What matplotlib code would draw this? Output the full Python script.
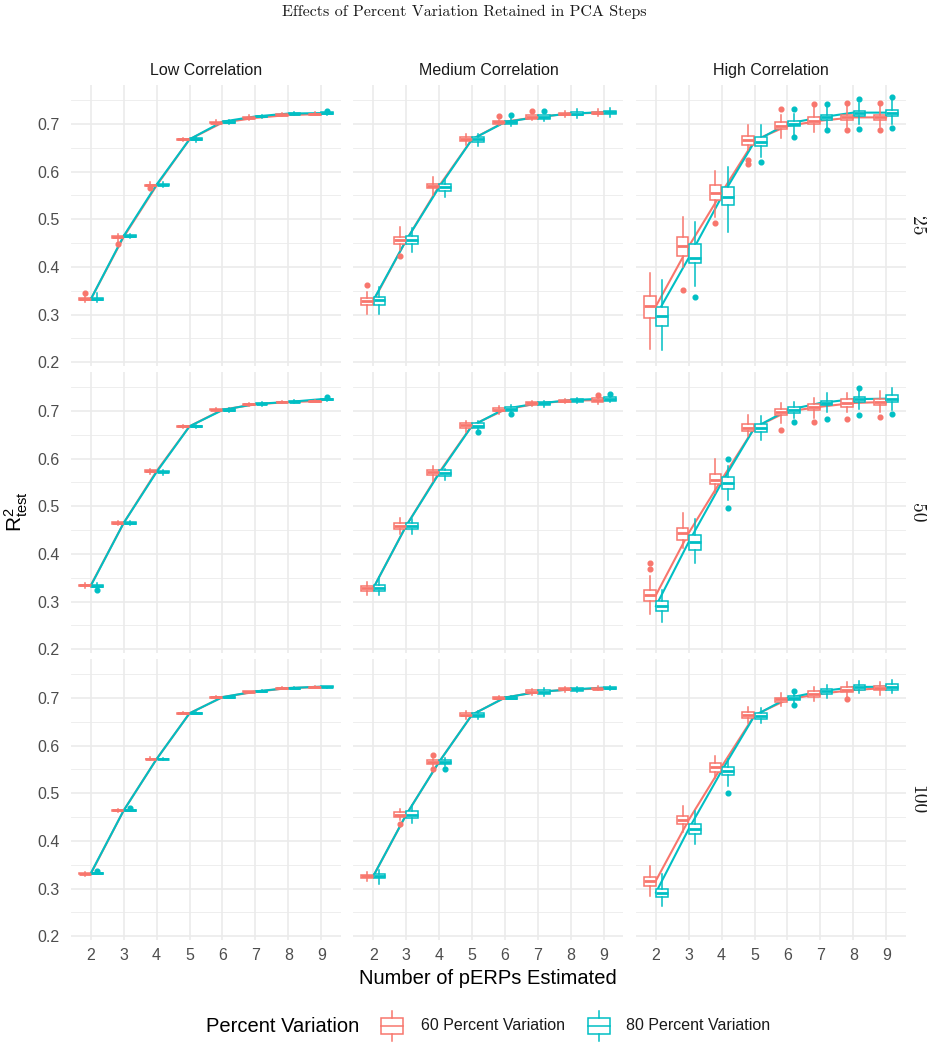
import matplotlib
matplotlib.use("Agg")
import matplotlib.pyplot as plt
from matplotlib.patches import Rectangle
from matplotlib.lines import Line2D
import numpy as np

plt.rcParams['font.family'] = ['Liberation Sans', 'DejaVu Sans']
plt.rcParams['mathtext.default'] = 'regular'

# ---------------- data ----------------
CORRS = ['Low Correlation', 'Medium Correlation', 'High Correlation']
PCS = ['25', '50', '100']
X = [2, 3, 4, 5, 6, 7, 8, 9]
SERIES = ['60 Percent Variation', '80 Percent Variation']
COLORS = ['#F8766D', '#00BFC4']

# box statistics (median, q1, q3, lower whisker, upper whisker)
LOW_25_60 = dict(med=[.332, .463, .571, .668, .703, .713, .719, .721],
                 q1=[.330, .460, .569, .667, .702, .712, .718, .720],
                 q3=[.334, .465, .573, .669, .705, .715, .721, .722],
                 lo=[.326, .452, .562, .665, .699, .709, .716, .718],
                 hi=[.338, .470, .578, .671, .708, .718, .724, .725])
LOW_25_80 = dict(med=[.332, .465, .573, .668, .705, .716, .722, .723],
                 q1=[.330, .463, .572, .666, .703, .715, .721, .722],
                 q3=[.334, .467, .575, .670, .706, .717, .724, .725],
                 lo=[.326, .460, .568, .663, .701, .712, .718, .720],
                 hi=[.345, .470, .578, .673, .708, .720, .726, .727])
LOW_50_60 = dict(med=[.334, .465, .574, .668, .703, .714, .719, .721],
                 q1=[.332, .463, .572, .667, .702, .713, .718, .720],
                 q3=[.335, .467, .576, .669, .704, .715, .720, .722],
                 lo=[.329, .460, .567, .665, .700, .711, .716, .718],
                 hi=[.338, .470, .579, .671, .706, .717, .722, .724])
LOW_50_80 = dict(med=[.333, .465, .572, .668, .702, .715, .719, .725],
                 q1=[.331, .463, .571, .667, .701, .714, .718, .723],
                 q3=[.335, .467, .574, .669, .704, .716, .721, .726],
                 lo=[.326, .461, .566, .665, .699, .711, .716, .721],
                 hi=[.338, .469, .577, .671, .706, .718, .723, .728])
LOW_100_60 = dict(med=[.331, .464, .572, .668, .702, .713, .721, .723],
                  q1=[.330, .463, .571, .667, .701, .712, .720, .722],
                  q3=[.332, .465, .573, .669, .703, .714, .722, .724],
                  lo=[.327, .461, .569, .666, .700, .711, .719, .721],
                  hi=[.335, .467, .576, .670, .704, .715, .723, .725])
LOW_100_80 = dict(med=[.332, .464, .572, .668, .702, .714, .721, .724],
                  q1=[.331, .463, .571, .667, .701, .713, .720, .723],
                  q3=[.333, .465, .573, .669, .703, .715, .722, .725],
                  lo=[.330, .462, .570, .666, .700, .712, .719, .722],
                  hi=[.337, .467, .575, .670, .704, .716, .723, .726])

MED_25_60 = dict(med=[.328, .456, .570, .668, .705, .715, .722, .724],
                 q1=[.320, .449, .565, .664, .701, .711, .719, .721],
                 q3=[.334, .463, .574, .672, .707, .718, .724, .726],
                 lo=[.301, .435, .551, .656, .697, .709, .715, .717],
                 hi=[.348, .484, .588, .679, .708, .720, .728, .731])
MED_25_80 = dict(med=[.330, .456, .567, .668, .704, .715, .722, .725],
                 q1=[.320, .448, .560, .663, .700, .711, .718, .721],
                 q3=[.337, .465, .574, .673, .707, .719, .725, .728],
                 lo=[.302, .432, .547, .654, .695, .707, .713, .715],
                 hi=[.357, .481, .584, .680, .712, .720, .731, .733])
MED_50_60 = dict(med=[.328, .459, .571, .670, .703, .716, .722, .723],
                 q1=[.323, .452, .566, .665, .700, .713, .719, .718],
                 q3=[.333, .464, .576, .674, .706, .719, .724, .727],
                 lo=[.314, .441, .553, .657, .694, .710, .717, .715],
                 hi=[.341, .476, .585, .679, .710, .721, .726, .730])
MED_50_80 = dict(med=[.328, .459, .569, .669, .705, .716, .723, .726],
                 q1=[.322, .452, .563, .664, .700, .713, .720, .721],
                 q3=[.334, .466, .576, .674, .709, .719, .725, .729],
                 lo=[.313, .441, .555, .658, .697, .709, .717, .718],
                 hi=[.352, .474, .578, .679, .712, .721, .728, .732])
MED_100_60 = dict(med=[.326, .455, .566, .665, .701, .713, .718, .720],
                  q1=[.323, .450, .561, .662, .699, .710, .716, .718],
                  q3=[.329, .461, .570, .669, .703, .716, .721, .722],
                  lo=[.316, .443, .558, .657, .697, .707, .713, .716],
                  hi=[.335, .467, .573, .672, .705, .719, .723, .725])
MED_100_80 = dict(med=[.326, .455, .566, .665, .701, .713, .718, .722],
                  q1=[.322, .448, .561, .661, .699, .709, .715, .719],
                  q3=[.330, .462, .570, .669, .703, .716, .721, .724],
                  lo=[.309, .437, .557, .656, .697, .705, .712, .716],
                  hi=[.339, .475, .574, .672, .705, .721, .724, .726])

HIGH_25_60 = dict(med=[.317, .443, .556, .666, .696, .707, .714, .714],
                  q1=[.293, .423, .540, .656, .689, .700, .708, .708],
                  q3=[.340, .462, .572, .675, .704, .714, .719, .719],
                  lo=[.228, .400, .505, .645, .670, .684, .694, .694],
                  hi=[.387, .505, .602, .698, .719, .735, .738, .740])
HIGH_25_80 = dict(med=[.297, .419, .547, .663, .701, .714, .724, .724],
                  q1=[.276, .409, .530, .654, .696, .708, .717, .717],
                  q3=[.316, .448, .568, .672, .707, .719, .728, .729],
                  lo=[.225, .361, .473, .631, .677, .691, .701, .701],
                  hi=[.373, .495, .609, .698, .722, .736, .745, .750])
HIGH_50_60 = dict(med=[.313, .444, .556, .665, .699, .709, .717, .719],
                  q1=[.302, .430, .546, .658, .691, .702, .709, .712],
                  q3=[.324, .455, .567, .672, .705, .715, .725, .726],
                  lo=[.273, .413, .528, .647, .675, .686, .697, .698],
                  hi=[.353, .486, .600, .691, .717, .728, .737, .742])
HIGH_50_80 = dict(med=[.290, .425, .549, .665, .702, .717, .725, .726],
                  q1=[.280, .409, .537, .657, .695, .712, .718, .718],
                  q3=[.301, .439, .562, .672, .708, .722, .730, .733],
                  lo=[.257, .381, .514, .640, .686, .698, .704, .702],
                  hi=[.325, .474, .584, .690, .720, .737, .744, .749])
HIGH_100_60 = dict(med=[.316, .444, .556, .664, .697, .709, .717, .721],
                   q1=[.306, .435, .545, .658, .691, .703, .712, .716],
                   q3=[.325, .452, .564, .670, .701, .714, .723, .726],
                   lo=[.284, .418, .533, .648, .683, .693, .703, .707],
                   hi=[.348, .473, .579, .681, .710, .724, .733, .733])
HIGH_100_80 = dict(med=[.291, .425, .547, .663, .700, .714, .723, .724],
                   q1=[.282, .415, .538, .657, .695, .709, .717, .717],
                   q3=[.300, .435, .556, .669, .705, .719, .728, .730],
                   lo=[.263, .393, .515, .648, .690, .700, .710, .710],
                   hi=[.330, .463, .571, .679, .710, .728, .735, .737])

# outliers: (pERPs, value)
OUT_LOW_25_60 = [(2, .345), (3, .449), (4, .565)]
OUT_LOW_25_80 = [(9, .727)]
OUT_LOW_50_60 = []
OUT_LOW_50_80 = [(2, .325), (9, .729)]
OUT_LOW_100_60 = []
OUT_LOW_100_80 = [(3, .469), (2, .337)]
OUT_MED_25_60 = [(2, .362), (3, .423), (6, .717), (7, .728)]
OUT_MED_25_80 = [(6, .718), (7, .728)]
OUT_MED_50_60 = [(9, .734)]
OUT_MED_50_80 = [(5, .655), (6, .694), (9, .735)]
OUT_MED_100_60 = [(3, .435), (4, .581), (4, .552)]
OUT_MED_100_80 = [(4, .551)]
OUT_HIGH_25_60 = [(3, .351), (4, .492), (5, .624), (5, .617), (6, .731),
                  (7, .742), (8, .745), (8, .687), (9, .745), (9, .687)]
OUT_HIGH_25_80 = [(3, .337), (5, .621), (6, .731), (6, .672), (7, .743),
                  (7, .687), (8, .752), (8, .689), (9, .756), (9, .691)]
OUT_HIGH_50_60 = [(2, .381), (2, .369), (6, .660), (7, .677), (8, .683),
                  (9, .688)]
OUT_HIGH_50_80 = [(4, .600), (4, .497), (6, .677), (7, .684), (8, .749),
                  (8, .691), (9, .694)]
OUT_HIGH_100_60 = [(8, .698)]
OUT_HIGH_100_80 = [(4, .501), (6, .714), (6, .686)]

PANELS = {
    ('Low Correlation', '25'): ((LOW_25_60, OUT_LOW_25_60), (LOW_25_80, OUT_LOW_25_80)),
    ('Low Correlation', '50'): ((LOW_50_60, OUT_LOW_50_60), (LOW_50_80, OUT_LOW_50_80)),
    ('Low Correlation', '100'): ((LOW_100_60, OUT_LOW_100_60), (LOW_100_80, OUT_LOW_100_80)),
    ('Medium Correlation', '25'): ((MED_25_60, OUT_MED_25_60), (MED_25_80, OUT_MED_25_80)),
    ('Medium Correlation', '50'): ((MED_50_60, OUT_MED_50_60), (MED_50_80, OUT_MED_50_80)),
    ('Medium Correlation', '100'): ((MED_100_60, OUT_MED_100_60), (MED_100_80, OUT_MED_100_80)),
    ('High Correlation', '25'): ((HIGH_25_60, OUT_HIGH_25_60), (HIGH_25_80, OUT_HIGH_25_80)),
    ('High Correlation', '50'): ((HIGH_50_60, OUT_HIGH_50_60), (HIGH_50_80, OUT_HIGH_50_80)),
    ('High Correlation', '100'): ((HIGH_100_60, OUT_HIGH_100_60), (HIGH_100_80, OUT_HIGH_100_80)),
}

YTICKS = [0.2, 0.3, 0.4, 0.5, 0.6, 0.7]
YMINOR = [0.25, 0.35, 0.45, 0.55, 0.65, 0.75]

# ---------------- layout ----------------
W, H = 928, 1050
fig = plt.figure(figsize=(W / 100, H / 100), dpi=100)
fig.patch.set_facecolor('white')

COL_LEFT = [71, 353.5, 636]
PANEL_W = 270
ROW_TOP = [85, 372, 659]
PANEL_H = 281
GRID = '#EBEBEB'
TXT = '#4D4D4D'

DODGE = [-0.1875, 0.1875]
xs = np.array(X, dtype=float)

for r, pc in enumerate(PCS):
    for c, corr in enumerate(CORRS):
        ax = fig.add_axes([COL_LEFT[c] / W, 1 - (ROW_TOP[r] + PANEL_H) / H,
                           PANEL_W / W, PANEL_H / H])
        ax.set_facecolor('white')
        for s in range(2):
            st, outs = PANELS[(corr, pc)][s]
            col = COLORS[s]
            pos = xs + DODGE[s]
            # connecting line through medians (undodged)
            ax.plot(xs, st['med'], color=col, lw=1.5, zorder=2 + 0.1 * s,
                    solid_capstyle='round')
            stats = []
            for i, xv in enumerate(X):
                stats.append(dict(med=st['med'][i], q1=st['q1'][i], q3=st['q3'][i],
                                  whislo=st['lo'][i], whishi=st['hi'][i],
                                  fliers=[v for (xx, v) in outs if xx == xv]))
            ax.bxp(stats, positions=pos, widths=0.36, patch_artist=True,
                   showcaps=False, manage_ticks=False, zorder=3,
                   boxprops=dict(facecolor='white', edgecolor=col, lw=1.1),
                   medianprops=dict(color=col, lw=2.0),
                   whiskerprops=dict(color=col, lw=1.1),
                   flierprops=dict(marker='o', markerfacecolor=col,
                                   markeredgecolor=col, markersize=3.4, lw=0))
        ax.set_xlim(1.4, 9.6)
        ax.set_ylim(0.192, 0.782)
        ax.set_xticks(X)
        ax.set_yticks(YTICKS)
        ax.set_yticks(YMINOR, minor=True)
        ax.set_axisbelow(True)
        ax.grid(which='major', color=GRID, lw=1.2, zorder=0)
        ax.grid(which='minor', axis='y', color=GRID, lw=0.6, zorder=0)
        for sp in ax.spines.values():
            sp.set_visible(False)
        ax.tick_params(which='both', length=0, colors=TXT, labelsize=11.5)
        ax.tick_params(axis='y', pad=8)
        ax.tick_params(axis='x', pad=6)
        if c != 0:
            ax.set_yticklabels([])
        else:
            ax.set_yticklabels([f'{v:.1f}' for v in YTICKS])
        if r != 2:
            ax.set_xticklabels([])
        else:
            ax.set_xticklabels([str(v) for v in X])
        if r == 0:
            ax.set_title(corr, fontsize=11.5, color='#1A1A1A', pad=7)
        if c == 2:
            ax.text(1 + 11 / PANEL_W, 0.5, pc, transform=ax.transAxes,
                    rotation=-90, ha='center', va='center', fontsize=14,
                    family='cmr10', color='#1A1A1A')

# titles
fig.text(0.5, 1 - 12 / H, 'Effects of Percent Variation Retained in PCA Steps',
         ha='center', va='center', family='cmr10', fontsize=11.5, color='#1A1A1A')
fig.text(488 / W, 1 - 978 / H, 'Number of pERPs Estimated', ha='center',
         va='center', fontsize=14.5, color='black')
fig.text(16 / W, 1 - 512 / H, r'$\mathregular{R^2_{test}}$', ha='center',
         va='center', rotation=90, fontsize=15, color='black')

# legend (drawn in pixel coordinates overlay)
lax = fig.add_axes([0, 0, 1, 1])
lax.set_xlim(0, W)
lax.set_ylim(H, 0)
lax.axis('off')
lax.text(206, 1026, 'Percent Variation', ha='left', va='center', fontsize=14.5,
         color='black')
KEY_X = [392, 599]
LAB_X = [421, 626]
for s in range(2):
    col = COLORS[s]
    kx = KEY_X[s]
    lax.add_patch(Rectangle((kx - 11, 1018), 22, 16, facecolor='white',
                            edgecolor=col, lw=1.1))
    lax.add_line(Line2D([kx - 11, kx + 11], [1026, 1026], color=col, lw=1.1))
    lax.add_line(Line2D([kx, kx], [1011, 1018], color=col, lw=1.1))
    lax.add_line(Line2D([kx, kx], [1034, 1041], color=col, lw=1.1))
    lax.text(LAB_X[s], 1026, SERIES[s], ha='left', va='center', fontsize=11.5,
             color='#1A1A1A')

fig.savefig('out.png', dpi=100, facecolor='white')
